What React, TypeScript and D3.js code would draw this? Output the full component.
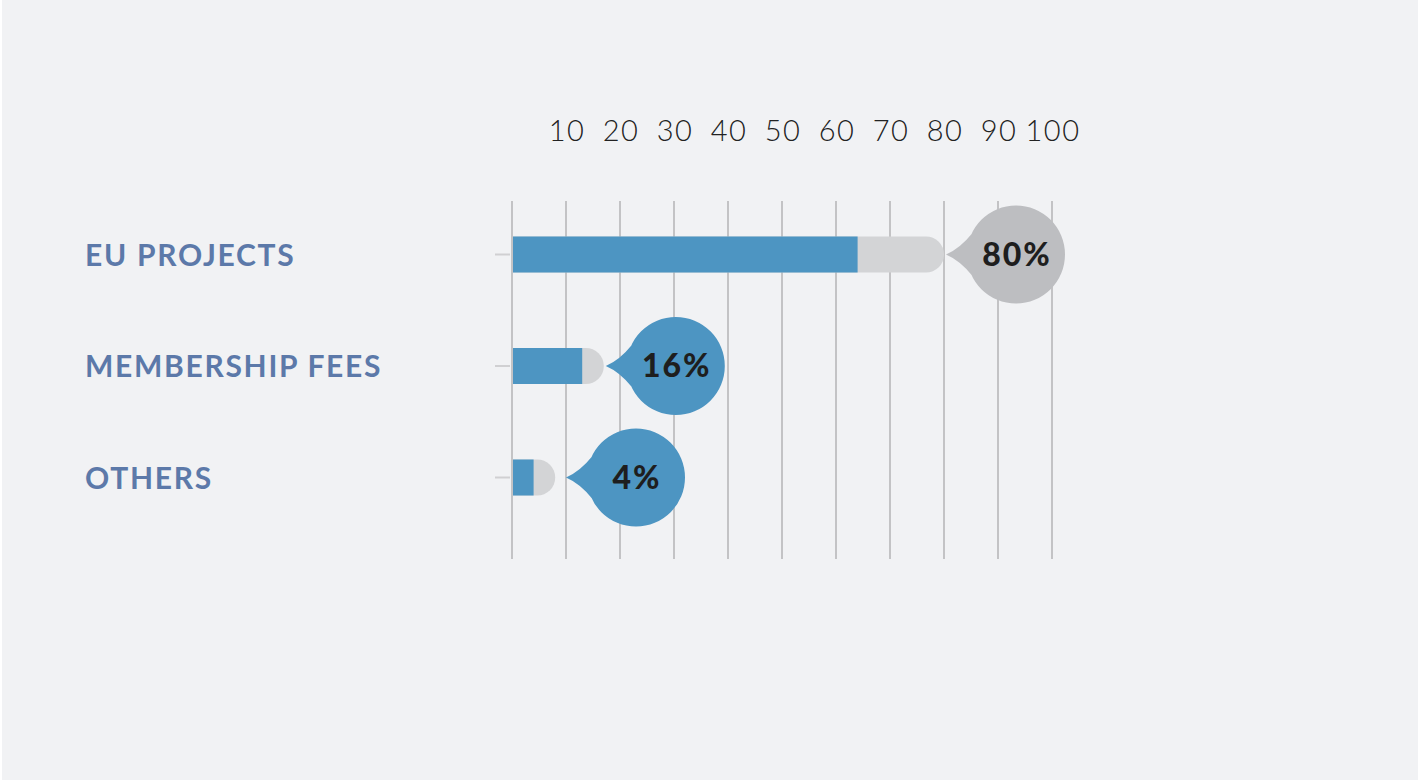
import React from "react";
import * as d3 from "d3";

const categories = ["EU PROJECTS", "MEMBERSHIP FEES", "OTHERS"];
const blueValues = [64, 13, 4];
const grayValues = [80, 17, 8];
const bubbleLabels = ["80%", "16%", "4%"];
const bubbleKinds = ["gray", "blue", "blue"];
const tickValues = [0, 10, 20, 30, 40, 50, 60, 70, 80, 90, 100];
const tickLabels = ["", "10", "20", "30", "40", "50", "60", "70", "80", "90", "100"];
const minBubbleTip = 10;

const W = 1418;
const H = 782;
const BLUE = "#4d95c2";
const GRAY_BAR = "#d3d4d6";
const GRAY_BUBBLE = "#bdbec1";
const LABEL = "#5c79a9";

export default function App() {
  const x = d3.scaleLinear().domain([0, 100]).range([512, 1052]);
  const y = d3.scalePoint<string>().domain(categories).range([254.5, 477.5]);
  const barH = 36;
  const r = barH / 2;

  const roundedRight = (x0: number, x1: number, cy: number) => {
    const p = d3.path();
    const rr = Math.min(r, x1 - x0);
    p.moveTo(x0, cy - r);
    p.lineTo(x1 - rr, cy - r);
    p.arc(x1 - rr, cy, r, -Math.PI / 2, Math.PI / 2, false);
    p.lineTo(x0, cy + r);
    p.closePath();
    return p.toString();
  };

  const bubblePath = (tipX: number, cy: number) => {
    const cx = tipX + 70;
    const R = 49;
    const p = d3.path();
    p.moveTo(tipX, cy);
    p.quadraticCurveTo(cx - 56, cy - 6, cx - 44, cy - 21);
    p.lineTo(cx - 30, cy);
    p.lineTo(cx - 44, cy + 21);
    p.quadraticCurveTo(cx - 56, cy + 6, tipX, cy);
    p.closePath();
    p.moveTo(cx + R, cy);
    p.arc(cx, cy, R, 0, Math.PI * 2);
    return { d: p.toString(), cx };
  };

  return (
    <svg width={W} height={H} style={{ position: "fixed", left: 0, top: 0 }}>
      <rect x={0} y={0} width={W} height={H} fill="#ffffff" />
      <rect x={2} y={0} width={W - 2} height={780} fill="#f1f2f4" />
      {tickValues.map((t, i) => (
        <g key={t}>
          <line x1={x(t)} x2={x(t)} y1={201} y2={559} stroke="#c3c3c5" strokeWidth={2} />
          <text
            x={x(t) + 1}
            y={141}
            textAnchor="middle"
            fontFamily="Lato, 'Open Sans', sans-serif"
            fontWeight={300}
            fontSize={29}
            letterSpacing={1.5}
            fill="#222"
          >
            {tickLabels[i]}
          </text>
        </g>
      ))}
      {categories.map((c, i) => {
        const cy = y(c)!;
        const tip = Math.max(x(grayValues[i]) + 2, x(minBubbleTip));
        const b = bubblePath(tip, cy);
        return (
          <g key={c}>
            <text
              x={85}
              y={cy + 11}
              fontFamily="Lato, 'Open Sans', sans-serif"
              fontWeight={700}
              fontSize={30}
              letterSpacing={1.7}
              fill={LABEL}
            >
              {c}
            </text>
            <line x1={495} x2={510} y1={cy} y2={cy} stroke="#d0d0d2" strokeWidth={2} />
            <path d={roundedRight(x(0) + 1, x(grayValues[i]), cy)} fill={GRAY_BAR} />
            <rect x={x(0) + 1} y={cy - r} width={x(blueValues[i]) - x(0) - 1} height={barH} fill={BLUE} />
            <path d={b.d} fill={bubbleKinds[i] === "gray" ? GRAY_BUBBLE : BLUE} />
            <text
              x={b.cx + 1}
              y={cy + 11}
              textAnchor="middle"
              fontFamily="Lato, 'Open Sans', sans-serif"
              fontWeight={900}
              fontSize={32}
              letterSpacing={2}
              fill="#1e1e1e"
            >
              {bubbleLabels[i]}
            </text>
          </g>
        );
      })}
    </svg>
  );
}
